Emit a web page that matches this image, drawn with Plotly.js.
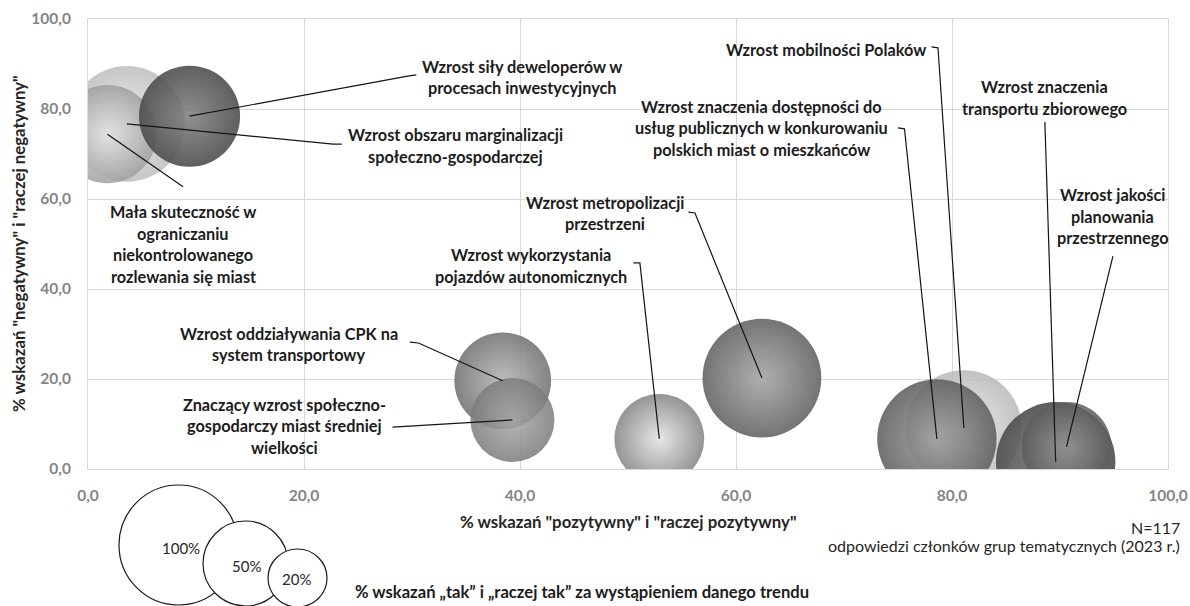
<!DOCTYPE html>
<html>
<head>
<meta charset="utf-8">
<script src="https://cdn.plot.ly/plotly-3.0.1.min.js"></script>
<style>
  html, body { margin: 0; padding: 0; background: #ffffff; }
  #chart { width: 1190px; height: 606px; }
</style>
</head>
<body>
<div id="chart"></div>
<script>
// ---------------- DATA ----------------
const trends = [
  "Wzrost obszaru marginalizacji społeczno-gospodarczej",
  "Mała skuteczność w ograniczaniu niekontrolowanego rozlewania się miast",
  "Wzrost siły deweloperów w procesach inwestycyjnych",
  "Wzrost oddziaływania CPK na system transportowy",
  "Znaczący wzrost społeczno-gospodarczy miast średniej wielkości",
  "Wzrost wykorzystania pojazdów autonomicznych",
  "Wzrost metropolizacji przestrzeni",
  "Wzrost mobilności Polaków",
  "Wzrost znaczenia dostępności do usług publicznych w konkurowaniu polskich miast o mieszkańców",
  "Wzrost znaczenia transportu zbiorowego",
  "Wzrost jakości planowania przestrzennego"
];
// % "pozytywny" + "raczej pozytywny"
const positive = [3.6, 1.8, 9.4, 38.4, 39.3, 52.9, 62.4, 81.1, 78.6, 89.6, 90.6];
// % "negatywny" + "raczej negatywny"
const negative = [76.7, 74.4, 78.4, 19.6, 10.9, 6.7, 20.2, 9.1, 6.7, 1.6, 4.9];
// % "tak" + "raczej tak" (bubble size)
const support = [93, 67, 71, 65, 49, 56, 98, 93, 99, 99, 56];

const xTicks = [0, 20, 40, 60, 80, 100];
const yTicks = [0, 20, 40, 60, 80, 100];
const legendSizes = ["100%", "50%", "20%"];

// ---------------- STYLE ----------------
const FONT = "Lato, 'Open Sans', sans-serif";
const edgeColors   = ['#b9b9b9', '#9f9f9f', '#4a4a4a', '#767676', '#7b7b7b', '#8f8f8f', '#6d6d6d', '#b3b3b3', '#5f5f5f', '#4d4d4d', '#5c5c5c'];
const centerColors = ['#e6e6e6', '#e2e2e2', '#808080', '#b6b6b6', '#a8a8a8', '#e6e6e6', '#ababab', '#e8e8e8', '#9c9c9c', '#7e7e7e', '#939393'];
const opacities    = [0.8, 0.85, 0.88, 0.9, 0.85, 0.95, 0.95, 0.8, 0.88, 0.9, 0.85];

// label placement (data units) and leader-line bends, per trend index
const LINE = 21.5;
const labelLayout = [
  {i: 2, x: 40.2, y: 87.1, lines: ["Wzrost siły deweloperów w", "procesach inwestycyjnych"],
   leader: [[29.6, 87.3], [30.4, 87.6]]},
  {i: 0, x: 34.0, y: 71.9, lines: ["Wzrost obszaru marginalizacji", "społeczno-gospodarczej"],
   leader: [[22.7, 72.2], [23.5, 72.2]]},
  {i: 1, x: 8.8, y: 50.0, lines: ["Mała skuteczność w", "ograniczaniu", "niekontrolowanego", "rozlewania się miast"],
   leader: [[8.8, 62.7]]},
  {i: 3, x: 18.6, y: 27.8, lines: ["Wzrost oddziaływania CPK na", "system transportowy"],
   leader: [[30.6, 28.0], [29.8, 28.2]]},
  {i: 4, x: 18.2, y: 9.6, lines: ["Znaczący wzrost społeczno-", "gospodarczy miast średniej", "wielkości"],
   leader: [[28.2, 9.3]]},
  {i: 5, x: 41.0, y: 45.2, lines: ["Wzrost wykorzystania", "pojazdów autonomicznych"],
   leader: [[51.1, 45.8], [50.5, 45.8]]},
  {i: 6, x: 47.9, y: 56.9, lines: ["Wzrost metropolizacji", "przestrzeni"],
   leader: [[56.2, 56.9], [55.6, 57.1]]},
  {i: 8, x: 62.4, y: 75.8, lines: ["Wzrost znaczenia dostępności do", "usług publicznych w konkurowaniu", "polskich miast o mieszkańców"],
   leader: [[75.6, 75.6], [75.0, 75.8]]},
  {i: 7, x: 68.3, y: 93.3, lines: ["Wzrost mobilności Polaków"],
   leader: [[78.7, 93.6], [78.1, 93.8]]},
  {i: 9, x: 88.6, y: 82.6, lines: ["Wzrost znaczenia", "transportu zbiorowego"],
   leader: [[88.6, 77.1]]},
  {i: 10, x: 94.9, y: 56.2, lines: ["Wzrost jakości", "planowania", "przestrzennego"],
   leader: [[94.9, 47.3]]}
];

// ---------------- TRACE ----------------
const bubbles = {
  type: 'scatter',
  mode: 'markers',
  x: positive,
  y: negative,
  text: trends,
  hovertemplate: '%{text}<br>pozytywny: %{x:.1f}<br>negatywny: %{y:.1f}<extra></extra>',
  cliponaxis: true,
  marker: {
    size: support,
    sizemode: 'area',
    sizeref: 100 / (2 * 60 * 60),
    color: edgeColors,
    opacity: opacities,
    gradient: {type: 'radial', color: centerColors},
    line: {width: 0}
  },
  showlegend: false
};

// ---------------- ANNOTATIONS & SHAPES ----------------
const annotations = [];
const shapes = [];

labelLayout.forEach(L => {
  const n = L.lines.length;
  L.lines.forEach((t, k) => {
    annotations.push({
      xref: 'x', yref: 'y', x: L.x, y: L.y,
      text: t, showarrow: false,
      xanchor: 'center', yanchor: 'middle',
      yshift: ((n - 1) / 2 - k) * LINE,
      font: {family: FONT, size: 16.3, color: '#1c1c1c', weight: 'bold'}
    });
  });
  const pts = [[positive[L.i], negative[L.i]]].concat(L.leader);
  shapes.push({
    type: 'path', xref: 'x', yref: 'y', layer: 'above',
    path: 'M' + pts.map(p => p[0] + ',' + p[1]).join(' L'),
    line: {color: '#141414', width: 1.2}
  });
});

// axis titles
annotations.push({
  xref: 'paper', yref: 'paper', x: 0.5, y: -0.1156,
  text: '% wskazań "pozytywny" i "raczej pozytywny"', showarrow: false,
  xanchor: 'center', yanchor: 'middle',
  font: {family: FONT, size: 16.8, color: '#262626', weight: 'bold'}
});
annotations.push({
  xref: 'paper', yref: 'paper', x: -0.0648, y: 0.5,
  text: '% wskazań "negatywny" i "raczej negatywny"', showarrow: false, textangle: -90,
  xanchor: 'center', yanchor: 'middle',
  font: {family: FONT, size: 16.8, color: '#262626', weight: 'bold'}
});

// notes bottom right
annotations.push({
  xref: 'paper', yref: 'paper', x: 1.013, y: -0.131,
  text: 'N=117', showarrow: false, xanchor: 'right', yanchor: 'middle',
  font: {family: FONT, size: 16, color: '#262626'}
});
annotations.push({
  xref: 'paper', yref: 'paper', x: 1.013, y: -0.17,
  text: 'odpowiedzi członków grup tematycznych (2023 r.)', showarrow: false, xanchor: 'right', yanchor: 'middle',
  font: {family: FONT, size: 16, color: '#262626'}
});

// size legend (outline circles) and caption
const legendCircles = [
  {x0: 0.0287, x1: 0.1389, y0: -0.3022, y1: -0.0356, tx: 0.0861, ty: -0.1756},
  {x0: 0.1065, x1: 0.1852, y0: -0.3044, y1: -0.1156, tx: 0.1463, ty: -0.2156},
  {x0: 0.1667, x1: 0.2213, y0: -0.3067, y1: -0.1778, tx: 0.1935, ty: -0.2444}
];
legendCircles.forEach((c, k) => {
  shapes.push({
    type: 'circle', xref: 'paper', yref: 'paper',
    x0: c.x0, x1: c.x1, y0: c.y0, y1: c.y1,
    fillcolor: '#ffffff', line: {color: '#1a1a1a', width: 1.2}, layer: 'above'
  });
  annotations.push({
    xref: 'paper', yref: 'paper', x: c.tx, y: c.ty,
    text: legendSizes[k], showarrow: false, xanchor: 'center', yanchor: 'middle',
    font: {family: FONT, size: 15, color: '#262626'}
  });
});
annotations.push({
  xref: 'paper', yref: 'paper', x: 0.457, y: -0.273,
  text: '% wskazań „tak” i „raczej tak” za wystąpieniem danego trendu', showarrow: false,
  xanchor: 'center', yanchor: 'middle',
  font: {family: FONT, size: 16.6, color: '#1c1c1c', weight: 'bold'}
});

// ---------------- LAYOUT ----------------
const axisCommon = {
  range: [0, 100],
  tickvals: xTicks,
  tickformat: '.1f',
  showgrid: true, gridcolor: '#d9d9d9', gridwidth: 1,
  zeroline: false,
  showline: true, linecolor: '#d9d9d9', linewidth: 1, mirror: true,
  ticks: 'outside', ticklen: 12, tickcolor: 'rgba(0,0,0,0)',
  tickfont: {family: FONT, size: 15.5, color: '#858585', weight: 'bold'},
  fixedrange: true
};

const layout = {
  width: 1190, height: 606,
  margin: {l: 88, r: 22, t: 19, b: 137},
  paper_bgcolor: '#ffffff', plot_bgcolor: '#ffffff',
  separators: ', ',
  xaxis: Object.assign({}, axisCommon, {tickvals: xTicks}),
  yaxis: Object.assign({}, axisCommon, {tickvals: yTicks, ticklen: 13}),
  annotations: annotations,
  shapes: shapes,
  showlegend: false,
  hovermode: 'closest'
};

Plotly.newPlot('chart', [bubbles], layout, {displayModeBar: false, staticPlot: false});
</script>
</body>
</html>
